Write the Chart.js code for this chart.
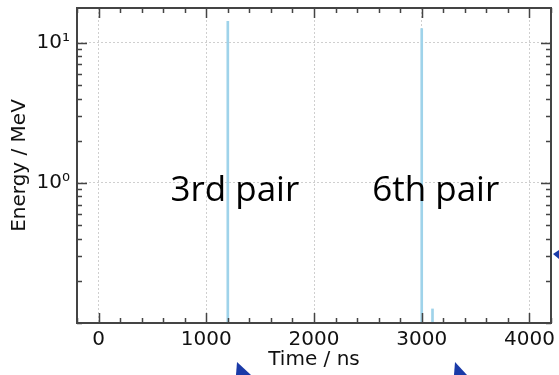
<!DOCTYPE html>
<html>
<head>
<meta charset="utf-8">
<script src="https://cdn.jsdelivr.net/npm/chart.js@4"></script>
<style>
    body { margin: 0; background: #fff; }
    #wrap { width: 559px; height: 375px; position: relative; }
</style>
</head>
<body>
<div id="wrap"><canvas id="energyChart"></canvas></div>
<script>
// Data
const spikeTimes = [1200, 3000, 3100];          // ns
const spikeEnergies = [14.2, 12.6, 0.126];      // MeV
const xTickValues = [];
for (let t = -200; t <= 4200; t += 200) xTickValues.push(t);
const xMajorValues = [0, 1000, 2000, 3000, 4000];
const yTickValues = [0.1, 0.2, 0.3, 0.4, 0.5, 0.6, 0.7, 0.8, 0.9,
                     1, 2, 3, 4, 5, 6, 7, 8, 9, 10];
const yMajorLabels = { 1: '10\u2070', 10: '10\u00b9' };
const pairNotes = [
    { text: '3rd pair', x: 667, y: 0.745 },
    { text: '6th pair', x: 2540, y: 0.745 }
];

const frameColor = '#444';
const gridColor = '#cfcfcf';
const spikeColor = '#9fd3ea';

// Frame + inward tick marks on all four sides, plus text notes and arrow heads
const framePlugin = {
    id: 'frame',
    afterDraw(chart) {
        const ctx = chart.ctx;
        const area = chart.chartArea;
        const xs = chart.scales.x;
        const ys = chart.scales.y;
        ctx.save();
        ctx.strokeStyle = frameColor;
        ctx.lineWidth = 1.5;
        xTickValues.forEach(v => {
            const px = Math.round(xs.getPixelForValue(v)) + 0.5;
            const len = xMajorValues.includes(v) ? 10 : 5;
            ctx.beginPath();
            ctx.moveTo(px, area.bottom); ctx.lineTo(px, area.bottom - len);
            ctx.moveTo(px, area.top); ctx.lineTo(px, area.top + len);
            ctx.stroke();
        });
        yTickValues.forEach(v => {
            const py = Math.round(ys.getPixelForValue(v)) + 0.5;
            const len = yMajorLabels[v] ? 10 : 5;
            ctx.beginPath();
            ctx.moveTo(area.left, py); ctx.lineTo(area.left + len, py);
            ctx.moveTo(area.right, py); ctx.lineTo(area.right - len, py);
            ctx.stroke();
        });
        ctx.lineWidth = 2;
        ctx.strokeRect(area.left, area.top, area.right - area.left, area.bottom - area.top);

        // notes
        ctx.fillStyle = '#000';
        ctx.font = '35px "Open Sans"';
        ctx.textBaseline = 'alphabetic';
        ctx.textAlign = 'left';
        pairNotes.forEach(n => {
            ctx.fillText(n.text, xs.getPixelForValue(n.x), ys.getPixelForValue(n.y));
        });

        // arrow heads of the surrounding figure, clipped by the frame
        ctx.fillStyle = '#1a3aa8';
        [
            [[237, 362], [251, 375], [236, 375]],
            [[455, 362], [467, 375], [454, 375]],
            [[553, 254], [559, 250], [559, 259]]
        ].forEach(tri => {
            ctx.beginPath();
            ctx.moveTo(tri[0][0], tri[0][1]);
            ctx.lineTo(tri[1][0], tri[1][1]);
            ctx.lineTo(tri[2][0], tri[2][1]);
            ctx.closePath();
            ctx.fill();
        });
        ctx.restore();
    }
};

const ctx = document.getElementById('energyChart').getContext('2d');
const energyChart = new Chart(ctx, {
    type: 'bar',
    data: {
        datasets: [{
            label: 'Energy',
            data: spikeTimes.map((t, i) => ({ x: t, y: spikeEnergies[i] })),
            backgroundColor: spikeColor,
            borderWidth: 0,
            barThickness: 2
        }]
    },
    options: {
        responsive: true,
        maintainAspectRatio: false,
        animation: false,
        devicePixelRatio: 1,
        layout: { padding: { top: 8, right: 8, left: 0, bottom: 0 } },
        plugins: {
            legend: { display: false },
            tooltip: { enabled: false }
        },
        scales: {
            x: {
                type: 'linear',
                offset: false,
                min: -200,
                max: 4200,
                afterBuildTicks: scale => {
                    scale.ticks = xTickValues.map(v => ({ value: v }));
                },
                afterFit: scale => {
                    scale.height = 52;
                    scale.paddingLeft = 0;
                    scale.paddingRight = 0;
                },
                ticks: {
                    autoSkip: false,
                    maxRotation: 0,
                    padding: 5,
                    color: '#111',
                    font: { family: 'DejaVu Sans', size: 20 },
                    callback: value => xMajorValues.includes(value) ? String(value) : ''
                },
                grid: {
                    offset: false,
                    drawTicks: false,
                    color: c => xMajorValues.includes(c.tick && c.tick.value) ? gridColor : 'transparent'
                },
                border: { display: false, dash: [2, 2] },
                title: {
                    display: true,
                    text: 'Time / ns',
                    color: '#111',
                    font: { family: 'DejaVu Sans', size: 20 },
                    padding: { top: 0, bottom: 3 }
                }
            },
            y: {
                type: 'logarithmic',
                min: 0.1,
                max: 17.7,
                afterBuildTicks: scale => {
                    scale.ticks = yTickValues.map(v => ({ value: v }));
                },
                afterFit: scale => {
                    scale.width = 77;
                    scale.paddingTop = 0;
                    scale.paddingBottom = 0;
                },
                ticks: {
                    autoSkip: false,
                    padding: 7,
                    color: '#111',
                    font: { family: 'DejaVu Sans', size: 20 },
                    callback: value => yMajorLabels[value] || ''
                },
                grid: {
                    drawTicks: false,
                    color: c => yMajorLabels[c.tick && c.tick.value] ? gridColor : 'transparent'
                },
                border: { display: false, dash: [2, 2] },
                title: {
                    display: true,
                    text: 'Energy / MeV',
                    color: '#111',
                    font: { family: 'DejaVu Sans', size: 20 },
                    padding: { top: 8, bottom: 0 }
                }
            }
        }
    },
    plugins: [framePlugin]
});
</script>
</body>
</html>
